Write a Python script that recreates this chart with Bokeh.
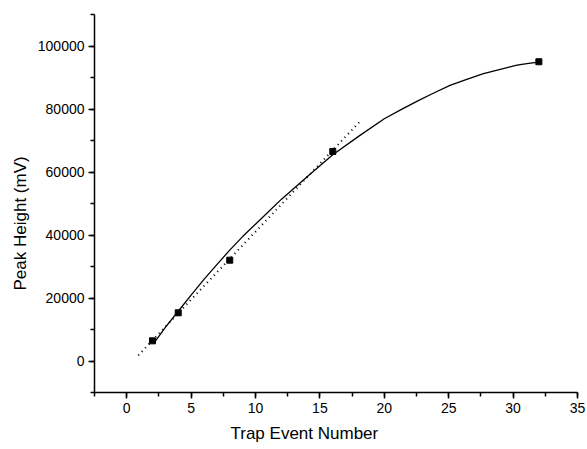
from bokeh.plotting import figure
from bokeh.models import Range1d, SingleIntervalTicker, BasicTickFormatter, Title
from bokeh.embed import file_html
from bokeh.resources import INLINE

# measured points
trap = [2, 4, 8, 16, 32]
peak = [6400, 15300, 32000, 66500, 95000]

# solid fitted curve
fit_x = [2.1, 3, 4, 5, 6, 7, 8, 9, 10.4, 12, 14.3, 16, 18, 20, 21.3, 22.6, 23.8,
         25.1, 26.4, 27.7, 29, 30.3, 31.2, 32]
fit_y = [5600, 10700, 15800, 20900, 25900, 30600, 35200, 39500, 45000, 51300, 59500,
         65500, 71300, 76900, 79800, 82600, 85000, 87500, 89400, 91200, 92600, 93900,
         94500, 94900]

# dotted linear fit
lin_x = [0.9, 18.1]
lin_y = [1800, 76000]

FONT = "Liberation Sans"

p = figure(width=587, height=449, output_backend="svg", toolbar_location=None,
           x_range=Range1d(-2.5, 35), y_range=Range1d(-10000, 110000),
           min_border_left=94, min_border_top=14, min_border_right=10, min_border_bottom=57)
p.outline_line_color = None
p.xgrid.visible = False
p.ygrid.visible = False
p.background_fill_color = "white"

p.line(fit_x, fit_y, line_color="black", line_width=1.3)
p.line(lin_x, lin_y, line_color="black", line_width=2, line_dash="1 4")
p.scatter(trap, peak, marker="square", size=6, color="black")

p.xaxis.ticker = SingleIntervalTicker(interval=5, num_minor_ticks=2)
p.yaxis.ticker = SingleIntervalTicker(interval=20000, num_minor_ticks=2)
p.yaxis.formatter = BasicTickFormatter(use_scientific=False)

for ax in (p.xaxis, p.yaxis):
    ax.axis_line_width = 1.5
    ax.axis_line_color = "black"
    ax.major_tick_line_width = 1.5
    ax.minor_tick_line_width = 1.5
    ax.major_tick_line_color = "black"
    ax.minor_tick_line_color = "black"
    ax.major_tick_out = 6
    ax.major_tick_in = 0
    ax.minor_tick_out = 4
    ax.minor_tick_in = 0
    ax.major_label_text_font = FONT
    ax.major_label_text_font_size = "14px"
    ax.major_label_text_color = "black"
    ax.major_label_standoff = 4

xt = Title(text="Trap Event Number", align="left", offset=136, standoff=13,
           text_font=FONT, text_font_size="17px", text_font_style="normal", text_color="black")
p.add_layout(xt, "below")
yt = Title(text="Peak Height (mV)", align="left", offset=102, standoff=10,
           text_font=FONT, text_font_size="17px", text_font_style="normal", text_color="black")
p.add_layout(yt, "left")

open("out.html", "w").write(file_html(p, INLINE))
